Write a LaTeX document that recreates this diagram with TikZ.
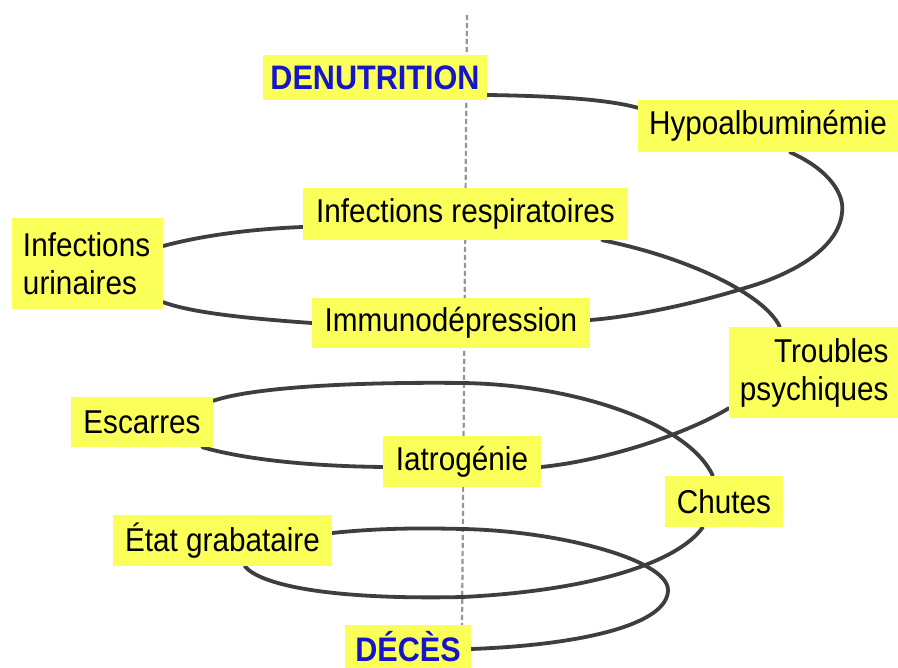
\documentclass[tikz,border=0pt]{standalone}
\usepackage{fontspec}
\setmainfont{Liberation Sans}[FakeStretch=0.9]
\definecolor{boxyellow}{RGB}{250,255,90}
\definecolor{titleblue}{RGB}{22,22,200}
\definecolor{spiralgray}{RGB}{62,62,62}
\definecolor{axisgray}{RGB}{150,150,150}
\tikzset{
  lbl/.style={rectangle, fill=boxyellow, inner sep=0pt, text=black,
    font=\fontsize{33}{38}\selectfont},
  ttl/.style={lbl, text=titleblue, font=\fontsize{34}{38}\selectfont\bfseries},
  spiral/.style={draw=spiralgray, line width=3.8pt, line cap=round},
  axisline/.style={draw=axisgray, line width=2.2pt, dash pattern=on 5pt off 3pt}
}
\begin{document}
\begin{tikzpicture}[x=1pt, y=-1pt]
\useasboundingbox (0,0) rectangle (898,668);
\clip (0,0) rectangle (898,668);
\fill[white] (0,0) rectangle (898,668);

% vertical axis
\coordinate (axtop) at (467,15);
\coordinate (axbot) at (462,628);
\draw[axisline] (axtop) -- (axbot);

% label positions (boxes are drawn again on top of the spiral below)
\path
 node[ttl, minimum width=224pt, minimum height=45pt] (den) at (375,77.5) {DENUTRITION}
 node[lbl, minimum width=260pt, minimum height=52pt] (hypo) at (768,126) {Hypoalbuminémie}
 node[lbl, minimum width=325pt, minimum height=52pt] (resp) at (465.5,214) {Infections respiratoires}
 node[lbl, minimum height=91pt, text width=129pt, inner xsep=11pt, align=left] (uri) at (87.5,263.5) {Infections\\urinaires}
 node[lbl, minimum width=278pt, minimum height=50pt] (immuno) at (451,323) {Immunodépression}
 node[lbl, minimum height=91pt, text width=150pt, inner xsep=9.5pt, align=right] (troubles) at (813.5,372.5) {Troubles\\psychiques}
 node[lbl, minimum width=142pt, minimum height=50pt] (escarres) at (142,422) {Escarres}
 node[lbl, minimum width=158pt, minimum height=51pt] (iatro) at (462,461.5) {Iatrogénie}
 node[lbl, minimum width=118pt, minimum height=51pt] (chutes) at (724,501.5) {Chutes}
 node[lbl, minimum width=219pt, minimum height=51pt] (etat) at (222.5,540.5) {État grabataire}
 node[ttl, minimum width=126pt, minimum height=43pt] (deces) at (408,646.5) {DÉCÈS};

% spiral
\draw[spiral] ([yshift=-17.5pt]den.east) .. controls (560,96) and (610,100) .. ([yshift=-8pt]hypo.north west);
\draw[spiral] ([xshift=22pt]hypo.south) .. controls (830,170) and (845,195) .. (842,213)
   .. controls (838,250) and (790,275) .. (745,288)
   .. controls (690,305) and (630,317) .. ([yshift=3pt]immuno.east);
\draw[spiral] (immuno.west) .. controls (240,318) and (190,312) .. ([yshift=7pt]uri.south east);
\draw[spiral] ([yshift=17.5pt]uri.east) .. controls (200,236) and (250,229) .. ([yshift=-13pt]resp.west);
\draw[spiral] ([xshift=-26pt]resp.south east) .. controls (690,258) and (765,295) .. ([xshift=51pt]troubles.north west);
\draw[spiral] ([yshift=10pt]troubles.south west) .. controls (690,432) and (610,460) .. ([yshift=-5.5pt]iatro.east);
\draw[spiral] ([yshift=-5.5pt]iatro.west) .. controls (300,466) and (240,458) .. ([xshift=-11pt]escarres.south east);
\draw[spiral] ([yshift=-4pt]escarres.north east) .. controls (260,385) and (380,382) .. (463,383)
   .. controls (580,385) and (690,425) .. ([xshift=48pt]chutes.north west);
\draw[spiral] ([xshift=38pt]chutes.south west) .. controls (680,560) and (600,590) .. (463,597)
   .. controls (330,600) and (260,585) .. ([xshift=132pt]etat.south west);
\draw[spiral] ([yshift=7.5pt]etat.east) .. controls (380,528) and (420,528) .. (463,529)
   .. controls (560,531) and (668,560) .. (668,590)
   .. controls (668,625) and (580,645) .. ([yshift=-2.5pt]deces.east);

% boxes on top of the spiral
\path
 node[ttl, minimum width=224pt, minimum height=45pt] at (den) {DENUTRITION}
 node[lbl, minimum width=260pt, minimum height=52pt] at (hypo) {Hypoalbuminémie}
 node[lbl, minimum width=325pt, minimum height=52pt] at (resp) {Infections respiratoires}
 node[lbl, minimum height=91pt, text width=129pt, inner xsep=11pt, align=left] at (uri) {Infections\\urinaires}
 node[lbl, minimum width=278pt, minimum height=50pt] at (immuno) {Immunodépression}
 node[lbl, minimum height=91pt, text width=150pt, inner xsep=9.5pt, align=right] at (troubles) {Troubles\\psychiques}
 node[lbl, minimum width=142pt, minimum height=50pt] at (escarres) {Escarres}
 node[lbl, minimum width=158pt, minimum height=51pt] at (iatro) {Iatrogénie}
 node[lbl, minimum width=118pt, minimum height=51pt] at (chutes) {Chutes}
 node[lbl, minimum width=219pt, minimum height=51pt] at (etat) {État grabataire}
 node[ttl, minimum width=126pt, minimum height=43pt] at (deces) {DÉCÈS};
\end{tikzpicture}
\end{document}
